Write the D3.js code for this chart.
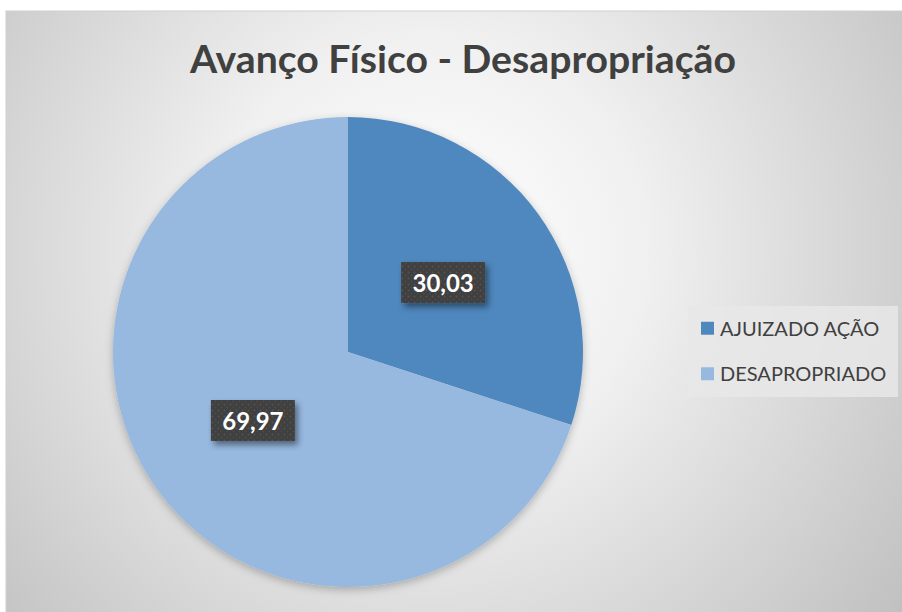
<!DOCTYPE html>
<html>
<head>
<meta charset="utf-8">
<script src="https://cdn.jsdelivr.net/npm/d3@7"></script>
<style>
  body { margin: 0; background: #fff; }
  svg { display: block; }
</style>
</head>
<body>
<svg id="chart" width="902" height="612"></svg>
<script>
// data
var categories = ["AJUIZADO AÇÃO", "DESAPROPRIADO"];
var values = [30.03, 69.97];
var labels = ["30,03", "69,97"];
var colors = ["#4f88be", "#97b9e0"];
var title = "Avanço Físico - Desapropriação";

var svg = d3.select("#chart");
var font = "Lato, 'Open Sans', sans-serif";

var defs = svg.append("defs");

// background gradient, light near centre top, grey towards corners
var bg = defs.append("radialGradient")
    .attr("id", "bg")
    .attr("gradientUnits", "userSpaceOnUse")
    .attr("cx", 430).attr("cy", 250).attr("r", 620);
bg.append("stop").attr("offset", "0%").attr("stop-color", "#ffffff");
bg.append("stop").attr("offset", "35%").attr("stop-color", "#f0f0f0");
bg.append("stop").attr("offset", "100%").attr("stop-color", "#bdbdbd");

var pieShadow = defs.append("filter").attr("id", "pieShadow")
    .attr("x", "-10%").attr("y", "-10%").attr("width", "120%").attr("height", "120%");
pieShadow.append("feDropShadow")
    .attr("dx", 0).attr("dy", 3).attr("stdDeviation", 4)
    .attr("flood-color", "#000").attr("flood-opacity", 0.25);

var boxShadow = defs.append("filter").attr("id", "boxShadow")
    .attr("x", "-20%").attr("y", "-20%").attr("width", "150%").attr("height", "160%");
boxShadow.append("feDropShadow")
    .attr("dx", 3).attr("dy", 4).attr("stdDeviation", 3)
    .attr("flood-color", "#000").attr("flood-opacity", 0.45);

// dotted texture for label boxes
var pat = defs.append("pattern").attr("id", "dots")
    .attr("patternUnits", "userSpaceOnUse")
    .attr("width", 6).attr("height", 6);
pat.append("rect").attr("width", 6).attr("height", 6).attr("fill", "#404040");
pat.append("circle").attr("cx", 1.5).attr("cy", 1.5).attr("r", 0.9).attr("fill", "#555");
pat.append("circle").attr("cx", 4.5).attr("cy", 4.5).attr("r", 0.9).attr("fill", "#4c4c4c");

// chart area
svg.append("rect")
    .attr("x", 6).attr("y", 11)
    .attr("width", 902).attr("height", 612)
    .attr("fill", "url(#bg)")
    .attr("stroke", "#d0d0d0").attr("stroke-width", 1);

svg.append("text")
    .attr("x", 463).attr("y", 73)
    .attr("text-anchor", "middle")
    .attr("font-family", font)
    .attr("font-weight", "bold")
    .attr("font-size", "38px")
    .attr("textLength", 546)
    .attr("lengthAdjust", "spacingAndGlyphs")
    .attr("fill", "#404040")
    .text(title);

var cx = 348, cy = 352, radius = 235;

var pie = d3.pie().sort(null).value(function(d){ return d; });
var arcs = pie(values);
var arc = d3.arc().innerRadius(0).outerRadius(radius);
var labelArc = d3.arc().innerRadius(radius/2).outerRadius(radius/2);

var g = svg.append("g")
    .attr("transform", `translate(${cx}, ${cy})`);

g.append("g")
    .attr("filter", "url(#pieShadow)")
    .selectAll("path")
    .data(arcs)
    .enter()
    .append("path")
      .attr("d", arc)
      .attr("fill", function(d, i){ return colors[i]; });

var lab = g.selectAll("g.lab")
    .data(arcs)
    .enter()
    .append("g")
      .attr("class", "lab")
      .attr("transform", function(d){ var c = labelArc.centroid(d); return `translate(${c[0]}, ${c[1]})`; });

lab.append("rect")
    .attr("x", -42).attr("y", -21)
    .attr("width", 84).attr("height", 41)
    .attr("fill", "url(#dots)")
    .attr("filter", "url(#boxShadow)");

lab.append("text")
    .attr("text-anchor", "middle")
    .attr("dy", "0.36em")
    .attr("font-family", font)
    .attr("font-weight", "bold")
    .attr("font-size", "24px")
    .attr("fill", "#ffffff")
    .text(function(d, i){ return labels[i]; });

// legend
var legend = svg.append("g").attr("transform", "translate(688, 306)");
legend.append("rect")
    .attr("width", 210).attr("height", 91)
    .attr("fill", "#e8e8e8").attr("fill-opacity", 0.85);

var ly = d3.scaleBand().domain(categories).range([0, 91]);

var item = legend.selectAll("g.item")
    .data(categories)
    .enter()
    .append("g")
      .attr("class", "item")
      .attr("transform", function(d){ return `translate(0, ${ly(d) + ly.bandwidth()/2})`; });

item.append("rect")
    .attr("x", 13).attr("y", -7)
    .attr("width", 13).attr("height", 13)
    .attr("fill", function(d, i){ return colors[i]; });

item.append("text")
    .attr("x", 32)
    .attr("dy", "0.36em")
    .attr("font-family", font)
    .attr("font-size", "20px")
    .attr("fill", "#404040")
    .text(function(d){ return d; });
</script>
</body>
</html>
